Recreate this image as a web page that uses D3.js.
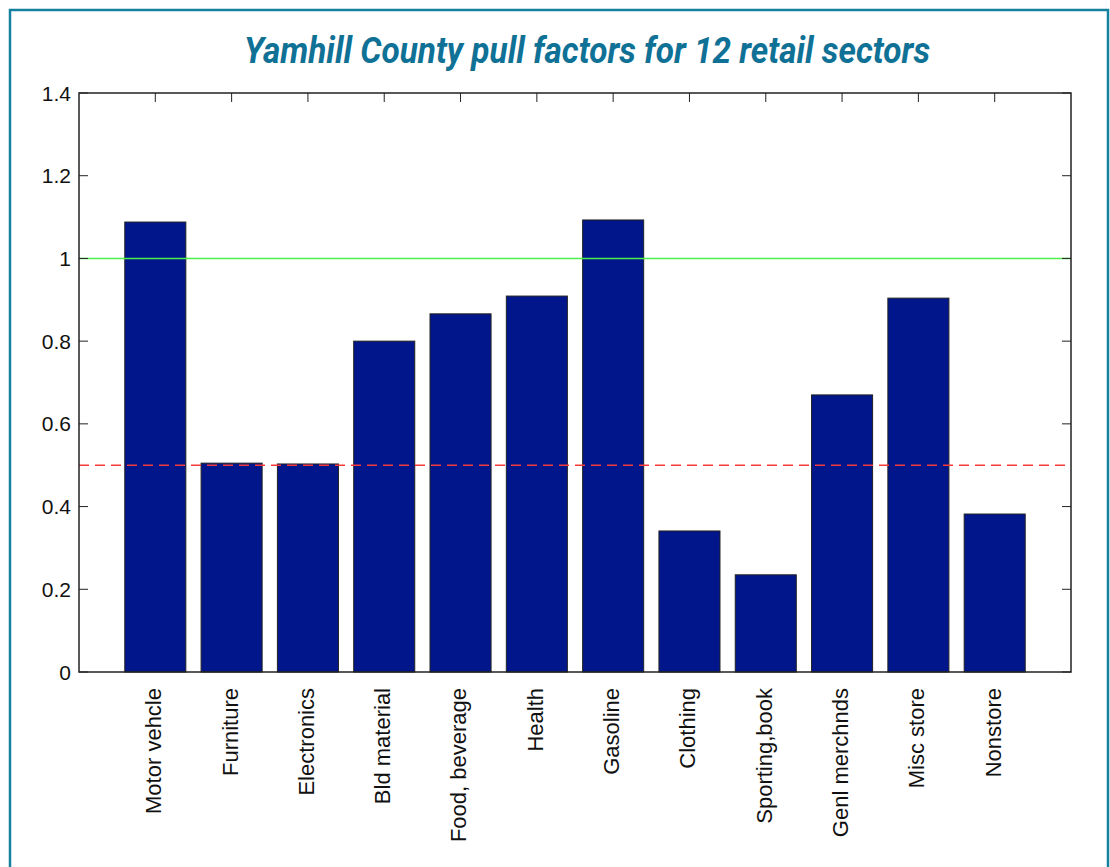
<!DOCTYPE html>
<html>
<head>
<meta charset="utf-8">
<script src="https://cdn.jsdelivr.net/npm/d3@7"></script>
<style>
  body { margin: 0; background: #fff; }
  svg { display: block; }
</style>
</head>
<body>
<svg id="chart" width="1110" height="867"></svg>
<script>
// pull factor per retail sector
const sectors = ['Motor vehcle', 'Furniture', 'Electronics', 'Bld material', 'Food, beverage', 'Health',
  'Gasoline', 'Clothing', 'Sporting,book', 'Genl merchnds', 'Misc store', 'Nonstore'];
const pullFactors = [1.088, 0.505, 0.503, 0.800, 0.866, 0.909, 1.093, 0.341, 0.235, 0.670, 0.904, 0.382];
const yTicks = [0, 0.2, 0.4, 0.6, 0.8, 1, 1.2, 1.4];
const refLines = [
  { value: 1, color: '#4cf04c', dash: null },
  { value: 0.5, color: '#f43a3a', dash: '10,6' },
];

const svg = d3.select('#chart');
const margin = { top: 93, right: 39, bottom: 195, left: 79 };
const width = 1110 - margin.left - margin.right;
const height = 867 - margin.top - margin.bottom;

// panel frame
svg.append('rect')
  .attr('x', 10).attr('y', 10)
  .attr('width', 1098).attr('height', 880)
  .attr('fill', 'none')
  .attr('stroke', '#17809f')
  .attr('stroke-width', 2.5);

svg.append('text')
  .attr('x', 587).attr('y', 63)
  .attr('text-anchor', 'middle')
  .attr('font-family', 'Roboto, Arial, sans-serif')
  .attr('font-weight', 'bold')
  .attr('font-style', 'italic')
  .attr('font-size', 36)
  .attr('fill', '#0f7195')
  .attr('textLength', 686)
  .attr('lengthAdjust', 'spacingAndGlyphs')
  .text('Yamhill County pull factors for 12 retail sectors');

const g = svg.append('g').attr('transform', `translate(${margin.left},${margin.top})`);

// matlab-style: xlim [0,13], bar width 0.8
const x = d3.scaleLinear().domain([0, sectors.length + 1]).range([0, width]);
const y = d3.scaleLinear().domain([0, 1.4]).range([height, 0]);
const bw = x(0.8) - x(0);

g.selectAll('rect.bar')
  .data(pullFactors)
  .join('rect')
  .attr('class', 'bar')
  .attr('x', (d, i) => x(i + 1) - bw / 2)
  .attr('y', d => y(d))
  .attr('width', bw)
  .attr('height', d => y(0) - y(d))
  .attr('fill', '#00168a')
  .attr('stroke', '#222')
  .attr('stroke-width', 1);

refLines.forEach(r => {
  g.append('line')
    .attr('x1', 0).attr('x2', width)
    .attr('y1', y(r.value)).attr('y2', y(r.value))
    .attr('stroke', r.color)
    .attr('stroke-width', 1.6)
    .attr('stroke-dasharray', r.dash);
});

// frame + inner ticks
g.append('rect')
  .attr('width', width).attr('height', height)
  .attr('fill', 'none')
  .attr('stroke', '#222')
  .attr('stroke-width', 1.5);

const tickLen = 9;
g.selectAll('line.ytl')
  .data(yTicks)
  .join('line')
  .attr('x1', 0).attr('x2', tickLen)
  .attr('y1', d => y(d)).attr('y2', d => y(d))
  .attr('stroke', '#222');
g.selectAll('line.ytr')
  .data(yTicks)
  .join('line')
  .attr('x1', width - tickLen).attr('x2', width)
  .attr('y1', d => y(d)).attr('y2', d => y(d))
  .attr('stroke', '#222');
g.selectAll('line.xt')
  .data(sectors)
  .join('line')
  .attr('x1', (d, i) => x(i + 1)).attr('x2', (d, i) => x(i + 1))
  .attr('y1', 0).attr('y2', tickLen)
  .attr('stroke', '#222');

g.selectAll('text.yl')
  .data(yTicks)
  .join('text')
  .attr('x', -8)
  .attr('y', d => y(d))
  .attr('dy', '0.36em')
  .attr('text-anchor', 'end')
  .attr('font-family', 'Liberation Sans, Arial, sans-serif')
  .attr('font-size', 21)
  .attr('fill', '#111')
  .text(d => d);

g.selectAll('text.xl')
  .data(sectors)
  .join('text')
  .attr('transform', (d, i) => `translate(${x(i + 1) - 2},${height + 16}) rotate(-90)`)
  .attr('dy', '0.36em')
  .attr('text-anchor', 'end')
  .attr('font-family', 'Liberation Sans, Arial, sans-serif')
  .attr('font-size', 22)
  .attr('fill', '#111')
  .text(d => d);
</script>
</body>
</html>
